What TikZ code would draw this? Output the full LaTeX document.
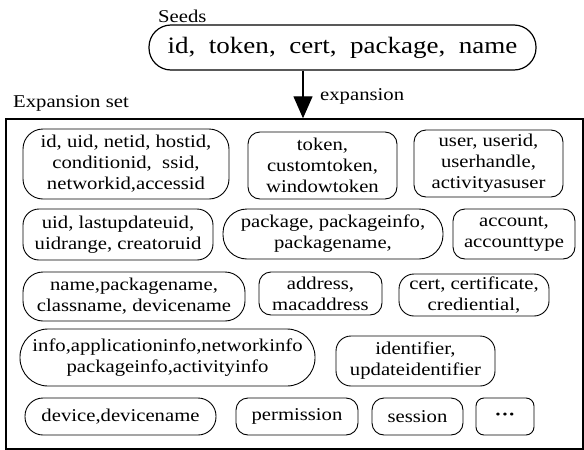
\documentclass[tikz,border=0pt]{standalone}
\usepackage{fontspec}
\setmainfont{Liberation Serif}[FakeStretch=1.15]
\usetikzlibrary{arrows.meta}
\begin{document}
\begin{tikzpicture}[x=1pt,y=-1pt,
  txt/.style={font=\fontsize{18}{21}\selectfont, inner sep=0pt},
  term/.style={txt, draw, line width=0.9pt, rounded corners=#1, align=center},
  frame/.style={draw, line width=1.4pt},
  flow/.style={line width=1.3pt, -{Triangle[length=22pt,width=19pt]}}]
\useasboundingbox (0,0) rectangle (584,450);

% seed keywords
\node[txt, anchor=base west] (seedlbl) at (158,22) {Seeds};
\node[term=22pt, line width=1.2pt, minimum width=387pt, minimum height=45pt,
  font=\fontsize{23.5}{26}\selectfont] (seeds) at (342.5,47.5)
  {id,\ \ token,\ \ cert,\ \ package,\ \ name};

% expansion set frame
\node[frame, minimum width=577pt, minimum height=330pt, inner sep=0pt] (exp) at (294.5,284) {};
\node[txt, anchor=base west] (explbl) at (13,107) {Expansion set};

% expansion step
\coordinate (ax) at (303,0);
\draw[flow] (seeds.south -| ax) -- (exp.north -| ax);
\node[txt, anchor=base west] (steplbl) at (320,100) {expansion};

% row 1
\node[term=20pt, minimum width=206pt, minimum height=70pt] (b1) at (126,164)
  {id, uid, netid, hostid,\\ conditionid,\ \ ssid,\\ networkid,accessid};
\node[term=12pt, minimum width=149pt, minimum height=67pt] (b2) at (322.5,165.5)
  {token,\\ customtoken,\\ windowtoken};
\node[term=12pt, minimum width=149pt, minimum height=67pt] (b3) at (488.5,163.5)
  {user, userid,\\ userhandle,\\ activityasuser};

% row 2
\node[term=16pt, minimum width=190pt, minimum height=51pt] (b4) at (118,234.5)
  {uid, lastupdateuid,\\ uidrange, creatoruid};
\node[term=24pt, minimum width=220pt, minimum height=50pt] (b5) at (333,234)
  {package, packageinfo,\\ packagename,};
\node[term=12pt, minimum width=122pt, minimum height=50pt] (b6) at (514,234)
  {account,\\ accounttype};

% row 3
\node[term=20pt, minimum width=222pt, minimum height=49pt] (b7) at (134,296.5)
  {name,packagename,\\ classname, devicename};
\node[term=12pt, minimum width=123pt, minimum height=43pt] (b8) at (320.5,293.5)
  {address,\\ macaddress};
\node[term=15pt, minimum width=150pt, minimum height=42pt] (b9) at (474,295)
  {cert, certificate,\\ crediential,};

% row 4
\node[term=28pt, minimum width=295pt, minimum height=57pt] (b10) at (167.5,357.5)
  {info,applicationinfo,networkinfo\\ packageinfo,activityinfo};
\node[term=15pt, minimum width=159pt, minimum height=50pt] (b11) at (415.5,361)
  {identifier,\\ updateidentifier};

% row 5
\node[term=18pt, minimum width=191pt, minimum height=37pt] (b12) at (120.5,416.5) {device,devicename};
\node[term=12pt, minimum width=122pt, minimum height=37pt] (b13) at (297,416.5) {permission};
\node[term=12pt, minimum width=91pt, minimum height=37pt] (b14) at (417.5,416.5) {session};
\node[term=8pt, minimum width=58pt, minimum height=37pt] (b15) at (505,416.5)
  {\textbf{\char"00B7\char"00B7\char"00B7}};
\end{tikzpicture}
\end{document}
